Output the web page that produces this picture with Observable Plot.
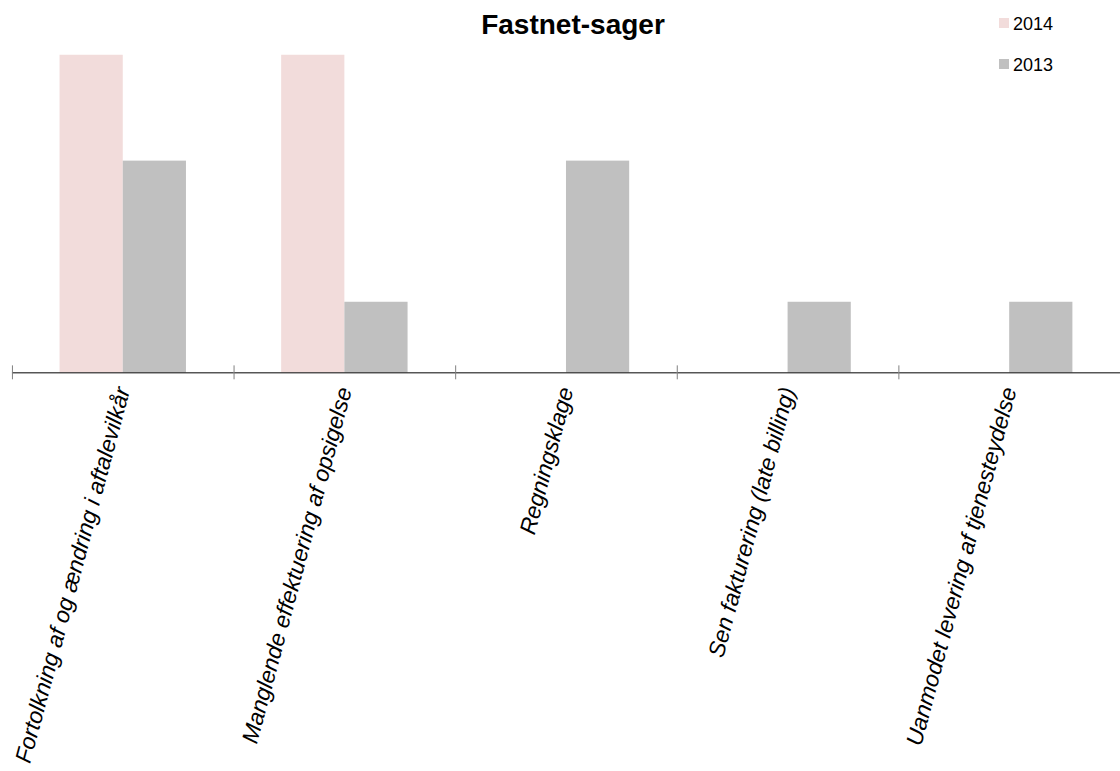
<!DOCTYPE html>
<html>
<head>
<meta charset="utf-8">
<script src="https://cdn.jsdelivr.net/npm/d3@7"></script>
<script src="https://cdn.jsdelivr.net/npm/@observablehq/plot@0.6"></script>
<style>
  html, body { margin: 0; padding: 0; background: #fff; overflow: hidden; }
  #wrap { position: relative; width: 1120px; height: 771px; overflow: hidden; font-family: "Liberation Sans", Arial, sans-serif; }
  #title { position: absolute; left: 0; top: 11px; width: 1146px; text-align: center; font-weight: bold; font-size: 28px; line-height: 28px; color: #000; }
  .leg { position: absolute; left: 999px; font-size: 18px; line-height: 18px; color: #000; white-space: nowrap; }
  .leg .sw { position: absolute; left: 0; width: 10px; height: 10px; }
  .leg .lb { position: absolute; left: 14px; }
  #chart { position: absolute; left: 0; top: 0; }
</style>
</head>
<body>
<div id="wrap">
  <div id="chart"></div>
  <div id="title"></div>
  <div id="legend"></div>
</div>
<script>
const title = "Fastnet-sager";
const categories = [
  "Fortolkning af og ændring i aftalevilkår",
  "Manglende effektuering af opsigelse",
  "Regningsklage",
  "Sen fakturering (late billing)",
  "Uanmodet levering af tjenesteydelse"
];
const years = ["2014", "2013"];
const values2014 = [9, 9, 0, 0, 0];
const values2013 = [6, 2, 6, 2, 2];
const colors = ["#f2dcdb", "#c0c0c0"];

const data = [];
categories.forEach((c, i) => {
  data.push({category: c, year: "2014", value: values2014[i]});
  data.push({category: c, year: "2013", value: values2013[i]});
});

document.getElementById("title").textContent = title;
const legend = document.getElementById("legend");
years.forEach((y, i) => {
  const d = document.createElement("div");
  d.className = "leg";
  d.style.top = (i === 0 ? 15 : 56) + "px";
  d.innerHTML = `<span class="sw" style="background:${colors[i]};top:3px"></span><span class="lb">${y}</span>`;
  legend.appendChild(d);
});

const W = 1125, H = 771;
const chart = Plot.plot({
  width: W,
  height: H,
  marginLeft: 12,
  marginRight: 0,
  marginTop: 55,
  marginBottom: 397,
  style: {fontFamily: "'Liberation Sans', Arial, sans-serif", background: "transparent"},
  fx: {domain: categories, padding: 0, round: false, label: null},
  x: {domain: years, paddingInner: 0, paddingOuter: 0.753, round: false, axis: null},
  y: {domain: [0, 9], axis: null},
  color: {domain: years, range: colors},
  marks: [
    Plot.barY(data, {fx: "category", x: "year", y: "value", fill: "year"}),
    Plot.ruleY([0], {stroke: "#000", strokeWidth: 1}),
    Plot.axisFx({anchor: "bottom", label: null, text: null, tickSize: 14, dy: -7, dx: -111.3, stroke: "#808080"}),
    Plot.axisFx({anchor: "bottom", label: null, tickSize: 0, tickPadding: 15, tickRotate: -75,
      textAnchor: "end", lineAnchor: "middle", fontSize: 23, fontStyle: "italic", fill: "#000"})
  ]
});
document.getElementById("chart").appendChild(chart);
</script>
</body>
</html>
